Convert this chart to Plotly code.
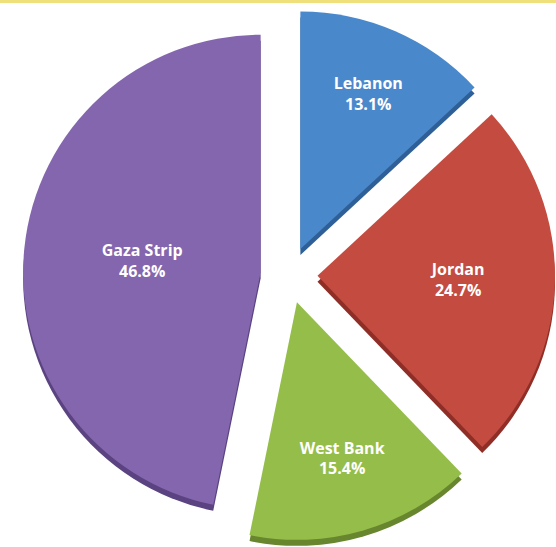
import plotly.graph_objects as go

# Share of registered refugees by field of operation
regions = ["Lebanon", "Jordan", "West Bank", "Gaza Strip"]
shares = [13.1, 24.7, 15.4, 46.8]

face_colors = ["#4A88CC", "#C44B40", "#95BD4A", "#8466AE"]
side_colors = ["#2E5F96", "#8E2E27", "#67862E", "#5A4380"]

W, H = 556, 547
pull = 0.12
# pie bounding box in pixels (includes pull)
x0_px, x1_px = 22, 557
y0_px, y1_px = 9, 541
depth = 6  # thickness of the slice walls, in px


def dom(dy=0):
    return dict(
        x=[x0_px / W, min(1.0, x1_px / W)],
        y=[1 - (y1_px + dy) / H, 1 - (y0_px + dy) / H],
    )


labels_text = [f"{r}<br>{v:.1f}%" for r, v in zip(regions, shares)]

fig = go.Figure()

# darker copy underneath gives the slices a visible wall
fig.add_trace(go.Pie(
    labels=regions, values=shares, sort=False, direction="clockwise",
    rotation=0, pull=pull, domain=dom(depth),
    marker=dict(colors=side_colors, line=dict(width=0)),
    textinfo="none", hoverinfo="skip", showlegend=False,
))

fig.add_trace(go.Pie(
    labels=regions, values=shares, sort=False, direction="clockwise",
    rotation=0, pull=pull, domain=dom(0),
    marker=dict(colors=face_colors, line=dict(width=0)),
    text=labels_text, textinfo="text", textposition="inside",
    insidetextorientation="horizontal",
    textfont=dict(family="Open Sans", size=16, color="white", weight="bold"),
    showlegend=False,
))

# thin yellow rule along the top edge
fig.add_shape(type="rect", xref="paper", yref="paper",
              x0=0, x1=1, y0=1 - 3 / H, y1=1,
              fillcolor="#EFE07C", line=dict(width=0), layer="above")

fig.update_layout(
    width=W, height=H,
    margin=dict(l=0, r=0, t=0, b=0),
    paper_bgcolor="white", plot_bgcolor="white",
    uniformtext=dict(minsize=16, mode="show"),
)

fig.write_html("out.html")
